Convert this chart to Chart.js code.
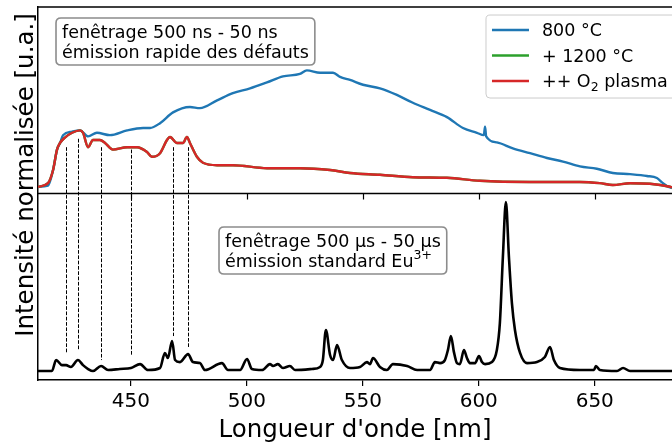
<!DOCTYPE html>
<html>
<head>
<meta charset="utf-8">
<script src="https://cdn.jsdelivr.net/npm/chart.js@4.4.0/dist/chart.umd.min.js"></script>
<style>
  html, body { margin: 0; padding: 0; background: #fff; overflow: hidden; }
  #wrap { width: 672px; height: 446px; }
</style>
</head>
<body>
<div id="wrap"><canvas id="spectre" width="672" height="446"></canvas></div>
<script>
const FONT = "'DejaVu Sans', sans-serif";

// Axe des x (nm)
const xMin = 410, xMax = 683.3;
const xTicks = [450, 500, 550, 600, 650];

// Panneau du haut : fenêtrage 500 ns - 50 ns
const nm800 = [410, 414.3, 416.5, 418.2, 419.5, 420.8, 424.7, 428.1, 431.6, 435.4, 441.0, 448.4,
  455.3, 458.3, 462.6, 468.2, 475.5, 479.8, 487.2, 494.0, 501.4, 508.7, 515.6, 522.9, 525.9,
  531.6, 537.2, 540.2, 544.5, 550.1, 557.4, 564.7, 571.6, 579.0, 586.3, 593.2, 599.2, 602.2,
  602.7, 603.2, 607.8, 614.7, 622.1, 629.4, 636.3, 643.6, 650.9, 657.8, 665.2, 672.5, 676.8,
  679.4, 681.6, 683.3];
const val800 = [0.01, 0.02, 0.15, 0.32, 0.375, 0.44, 0.47, 0.48, 0.43, 0.46, 0.44, 0.48,
  0.50, 0.50, 0.54, 0.63, 0.675, 0.665, 0.73, 0.79, 0.83, 0.88, 0.93, 0.95, 0.98,
  0.96, 0.96, 0.925, 0.90, 0.86, 0.83, 0.775, 0.71, 0.65, 0.59, 0.50, 0.46, 0.44,
  0.51, 0.43, 0.38, 0.33, 0.29, 0.25, 0.22, 0.18, 0.16, 0.125, 0.115, 0.10, 0.083,
  0.04, 0.01, 0.0];

const nmPlasma = [410, 414.3, 416.5, 418.2, 419.5, 421.6, 424.7, 428.1, 429.4, 431.6, 433.7,
  436.7, 438.9, 442.3, 448.4, 452.7, 457.0, 459.1, 462.6, 465.6, 466.9, 469.9, 472.5, 474.2,
  475.5, 478.5, 481.1, 487.2, 494.0, 508.7, 522.9, 535.9, 544.5, 557.4, 571.6, 586.3, 600.5,
  622.1, 643.6, 652.2, 657.8, 665.2, 673.8, 682.4, 683.3];
const valPlasma = [0.01, 0.04, 0.15, 0.32, 0.375, 0.42, 0.46, 0.48, 0.46, 0.34, 0.40,
  0.40, 0.375, 0.32, 0.34, 0.34, 0.30, 0.26, 0.29, 0.40, 0.425, 0.375, 0.375, 0.425,
  0.375, 0.26, 0.21, 0.19, 0.19, 0.165, 0.165, 0.15, 0.125, 0.11, 0.09, 0.085, 0.06,
  0.05, 0.05, 0.04, 0.025, 0.04, 0.035, 0.01, 0.005];

// la courbe verte (+ 1200 °C) est entièrement cachée sous la rouge
const nm1200 = nmPlasma;
const val1200 = valPlasma;

// Panneau du bas : fenêtrage 500 µs - 50 µs
const nmEu = [410, 416.0, 417.8, 420.3, 422.1, 424.2, 427.2, 429.4, 431.6, 433.7, 437.2, 440.2,
  445.3, 450.1, 454.0, 457.4, 462.6, 464.7, 466.0, 467.8, 469.1, 471.2, 474.7, 476.8, 479.8,
  482.0, 489.3, 491.9, 497.1, 500.1, 502.2, 506.6, 510.0, 511.3, 513.4, 515.6, 518.6, 520.8,
  528.1, 531.6, 532.8, 534.1, 535.9, 537.2, 538.9, 541.0, 544.5, 548.8, 551.8, 553.1, 554.4,
  557.4, 560.4, 563.0, 569.1, 573.4, 579.0, 581.1, 583.3, 585.4, 586.7, 588.0, 589.3, 590.6,
  591.9, 593.6, 594.9, 596.2, 598.4, 600.1, 601.4, 602.7, 605.7, 607.8, 609.1, 610.4, 611.7,
  613.0, 614.3, 615.6, 617.8, 620.8, 625.1, 628.5, 630.7, 632.4, 635.0, 643.6, 649.7, 650.5,
  652.2, 659.6, 662.2, 665.2, 683.3];
const valEu = [0, 0, 0.065, 0.035, 0.035, 0.024, 0.065, 0.035, 0.012, 0, 0.03, 0.006,
  0.012, 0.018, 0.041, 0.006, 0.018, 0.107, 0.077, 0.178, 0.065, 0.053, 0.10, 0.053, 0.047,
  0.006, 0.047, 0.006, 0.006, 0.071, 0.012, 0.006, 0.041, 0.03, 0.041, 0.018, 0.03, 0.006,
  0.012, 0.024, 0.065, 0.243, 0.095, 0.065, 0.154, 0.065, 0.018, 0.024, 0.053, 0.041, 0.077,
  0.024, 0.006, 0.041, 0.03, 0.006, 0.006, 0.053, 0.047, 0.065, 0.124, 0.207, 0.112, 0.047,
  0.041, 0.124, 0.077, 0.047, 0.047, 0.089, 0.053, 0.041, 0.053, 0.124, 0.284, 0.675, 1.0,
  0.675, 0.40, 0.243, 0.107, 0.047, 0.053, 0.083, 0.142, 0.065, 0.018, 0.006, 0.006, 0.03,
  0.006, 0, 0.018, 0, 0];

// Traits pointillés entre les deux panneaux
const dashNm  = [422.1, 427.2, 437.2, 450.1, 468.2, 474.7];
const dashTop = [0.34, 0.41, 0.34, 0.32, 0.34, 0.34];   // valeur sur le panneau du haut
const dashBot = [0.107, 0.124, 0.065, 0.095, 0.207, 0.142]; // valeur sur le panneau du bas

const pts = (xs, ys) => xs.map((x, i) => ({ x, y: ys[i] }));

// Cadre : ligne du haut, séparation entre panneaux, graduations du panneau haut
const cadre = {
    id: 'cadre',
    afterDatasetsDraw(chart) {
        const { ctx, chartArea: a, scales } = chart;
        const sep = scales.yTop.bottom;
        ctx.save();
        ctx.strokeStyle = '#000';
        ctx.lineWidth = 1.5;
        ctx.beginPath();
        ctx.moveTo(a.left, a.top); ctx.lineTo(a.right, a.top);
        ctx.moveTo(a.left, sep);   ctx.lineTo(a.right, sep);
        ctx.stroke();
        ctx.lineWidth = 1.2;
        ctx.beginPath();
        xTicks.forEach(v => {
            const px = Math.round(scales.x.getPixelForValue(v)) + 0.5;
            ctx.moveTo(px, sep); ctx.lineTo(px, sep + 6);
        });
        ctx.stroke();

        // pointillés
        ctx.lineWidth = 1;
        ctx.setLineDash([3.7, 1.6]);
        ctx.beginPath();
        dashNm.forEach((v, i) => {
            const px = Math.round(scales.x.getPixelForValue(v)) + 0.5;
            ctx.moveTo(px, scales.yTop.getPixelForValue(dashTop[i]));
            ctx.lineTo(px, scales.yBot.getPixelForValue(dashBot[i]));
        });
        ctx.stroke();
        ctx.restore();
    }
};

function roundBox(ctx, x, y, w, h, r) {
    ctx.beginPath();
    ctx.moveTo(x + r, y);
    ctx.lineTo(x + w - r, y); ctx.quadraticCurveTo(x + w, y, x + w, y + r);
    ctx.lineTo(x + w, y + h - r); ctx.quadraticCurveTo(x + w, y + h, x + w - r, y + h);
    ctx.lineTo(x + r, y + h); ctx.quadraticCurveTo(x, y + h, x, y + h - r);
    ctx.lineTo(x, y + r); ctx.quadraticCurveTo(x, y, x + r, y);
    ctx.closePath();
}

// Texte avec indices / exposants : segments {t, dy, small}
function richWidth(ctx, segs) {
    let w = 0;
    segs.forEach(s => {
        ctx.font = `${s.small ? 12.5 : 17.5}px ${FONT}`;
        w += ctx.measureText(s.t).width;
    });
    return w;
}
function drawRich(ctx, segs, x, y) {
    segs.forEach(s => {
        ctx.font = `${s.small ? 12.5 : 17.5}px ${FONT}`;
        ctx.fillText(s.t, x, y + (s.dy || 0));
        x += ctx.measureText(s.t).width;
    });
}

// Encadrés de texte (position en fraction du panneau)
const encadres = [
    { axe: 'yTop', fx: 0.0284, fy: 0.059, lignes: [
        [{ t: 'fenêtrage 500 ns - 50 ns' }],
        [{ t: 'émission rapide des défauts' }] ] },
    { axe: 'yBot', fx: 0.2855, fy: 0.18, lignes: [
        [{ t: 'fenêtrage 500 µs - 50 µs' }],
        [{ t: 'émission standard Eu' }, { t: '3+', small: true, dy: -8 }] ] }
];

// Libellés de légende (O₂ avec indice)
const libelles = {
    '800 °C': [{ t: '800 °C' }],
    '+ 1200 °C': [{ t: '+ 1200 °C' }],
    '++ O₂ plasma': [{ t: '++ O' }, { t: '2', small: true, dy: 3.5 }, { t: ' plasma' }]
};

const annotations = {
    id: 'annotations',
    afterDraw(chart) {
        const { ctx, scales } = chart;
        const xs = scales.x;
        ctx.save();
        ctx.textBaseline = 'alphabetic';
        ctx.textAlign = 'left';

        encadres.forEach(e => {
            const ys = scales[e.axe];
            const bx = xs.left + e.fx * (xs.right - xs.left);
            const by = ys.top + e.fy * (ys.bottom - ys.top);
            const w = Math.max(...e.lignes.map(l => richWidth(ctx, l))) + 12;
            const h = 47;
            roundBox(ctx, bx, by, w, h, 5);
            ctx.fillStyle = 'rgba(255,255,255,0.85)';
            ctx.fill();
            ctx.strokeStyle = '#8c8c8c';
            ctx.lineWidth = 1.6;
            ctx.stroke();
            ctx.fillStyle = '#000';
            e.lignes.forEach((l, i) => drawRich(ctx, l, bx + 6, by + 19.5 + i * 20.5));
        });

        // Légende dans le panneau du haut
        const ys = scales.yTop;
        const lx = xs.left + 0.7066 * (xs.right - xs.left);
        const ly = ys.top + 0.043 * (ys.bottom - ys.top);
        const ds = chart.data.datasets.filter(d => d.label);
        const tw = Math.max(...ds.map(d => richWidth(ctx, libelles[d.label])));
        roundBox(ctx, lx, ly, 56 + tw + 10, 83, 4);
        ctx.fillStyle = 'rgba(255,255,255,0.8)';
        ctx.fill();
        ctx.strokeStyle = '#cccccc';
        ctx.lineWidth = 1;
        ctx.stroke();
        ds.forEach((d, i) => {
            const base = ly + 21 + i * 25.5;
            ctx.strokeStyle = d.borderColor;
            ctx.lineWidth = 2.6;
            ctx.beginPath();
            ctx.moveTo(lx + 6, base - 6); ctx.lineTo(lx + 43, base - 6);
            ctx.stroke();
            ctx.fillStyle = '#000';
            drawRich(ctx, libelles[d.label], lx + 56, base);
        });

        // Titre de l'axe des y, commun aux deux panneaux
        ctx.font = `24.5px ${FONT}`;
        ctx.textAlign = 'center';
        ctx.translate(33, 175);
        ctx.rotate(-Math.PI / 2);
        ctx.fillText('Intensité normalisée [u.a.]', 0, 0);
        ctx.restore();
    }
};

const courbe = (label, xs, ys, color, axe, width, order) => ({
    label, data: pts(xs, ys), yAxisID: axe, order,
    borderColor: color, backgroundColor: color,
    borderWidth: width, pointRadius: 0, cubicInterpolationMode: 'monotone', fill: false
});

new Chart(document.getElementById('spectre'), {
    type: 'line',
    data: {
        datasets: [
            courbe('800 °C', nm800, val800, '#1f77b4', 'yTop', 2.4, 3),
            courbe('+ 1200 °C', nm1200, val1200, '#2ca02c', 'yTop', 2.4, 2),
            courbe('++ O₂ plasma', nmPlasma, valPlasma, '#d62728', 'yTop', 2.4, 1),
            courbe('', nmEu, valEu, '#000000', 'yBot', 2.6, 0)
        ]
    },
    options: {
        responsive: false,
        animation: false,
        devicePixelRatio: 1,
        layout: { padding: { top: 7, right: 0, left: 0, bottom: 0 } },
        plugins: { legend: { display: false }, tooltip: { enabled: false } },
        scales: {
            x: {
                type: 'linear', min: xMin, max: xMax,
                afterBuildTicks: s => { s.ticks = xTicks.map(v => ({ value: v })); },
                afterFit: s => { s.height = 66; },
                grid: { display: true, drawOnChartArea: false, tickLength: 6, color: '#000', lineWidth: 1.2 },
                border: { color: '#000', width: 1.5 },
                ticks: { color: '#000', font: { family: FONT, size: 20 }, padding: 4, maxRotation: 0, autoSkip: false },
                title: { display: true, text: "Longueur d'onde [nm]", color: '#000',
                         font: { family: FONT, size: 24.5 }, padding: { top: 0, bottom: 1 } }
            },
            yBot: {
                type: 'linear', position: 'left', stack: 'panneaux', stackWeight: 1,
                min: -0.053, max: 1.05,
                afterFit: s => { s.width = 38; },
                ticks: { display: false },
                grid: { display: false },
                border: { color: '#000', width: 1.5 }
            },
            yTop: {
                type: 'linear', position: 'left', stack: 'panneaux', stackWeight: 1,
                min: -0.046, max: 1.508,
                afterFit: s => { s.width = 38; },
                ticks: { display: false },
                grid: { display: false },
                border: { color: '#000', width: 1.5 }
            }
        }
    },
    plugins: [cadre, annotations]
});
</script>
</body>
</html>
